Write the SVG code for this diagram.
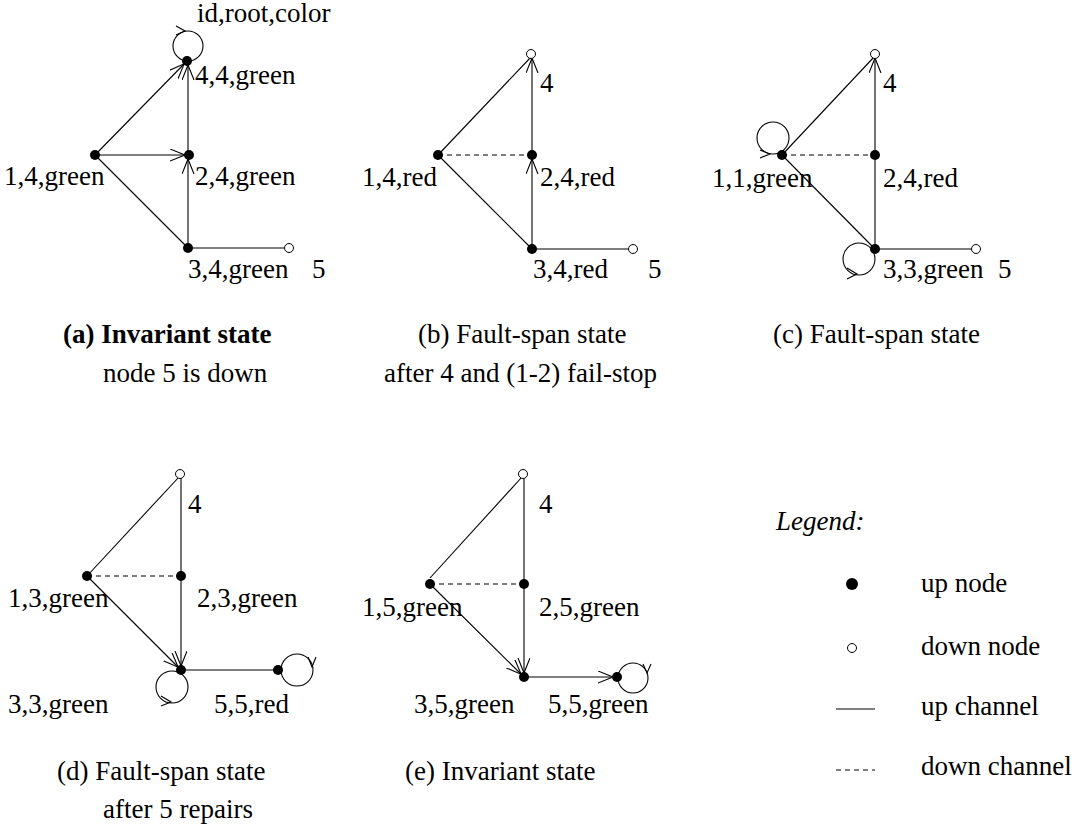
<svg xmlns="http://www.w3.org/2000/svg" width="1089" height="829" viewBox="0 0 1089 829">
<defs>
<style>
text{font-family:"Liberation Serif","Times New Roman",serif;font-size:27px;fill:#000}
.b{font-weight:bold}
.i{font-style:italic}
.e{stroke:#000;stroke-width:1.1;fill:none}
.d{stroke:#000;stroke-width:1.1;fill:none;stroke-dasharray:5 4}
.up{fill:#000}
.dn{fill:#fff;stroke:#000;stroke-width:1}
.ah{stroke:#000;stroke-width:1.1;fill:none}
</style>
<marker id="arr" markerUnits="userSpaceOnUse" markerWidth="24" markerHeight="14" viewBox="0 0 24 14" refX="19" refY="6" orient="auto">
<path d="M0,0 L15,6 L0,12" fill="none" stroke="#000" stroke-width="1.1"/>
</marker>
</defs>
<rect width="1089" height="829" fill="#fff"/>

<!-- Panel a -->
<g id="connectors-a">
<line class="e" x1="95" y1="155" x2="187" y2="61" marker-end="url(#arr)" stroke-width="1.5"/>
<line class="e" x1="95" y1="155" x2="189" y2="155" marker-end="url(#arr)" stroke-width="1.5"/>
<line class="e" x1="95" y1="155" x2="188" y2="248"/>
<line class="e" x1="188" y1="248" x2="188" y2="155" marker-end="url(#arr)"/>
<line class="e" x1="188" y1="155" x2="188" y2="61" marker-end="url(#arr)"/>
<line class="e" x1="188" y1="248" x2="285" y2="248"/>
<circle class="e" cx="188" cy="46" r="15"/>
<path class="ah" d="M176,26 L185,31 L176,35"/>
</g>
<g id="a-n4"><circle class="up" cx="187" cy="61" r="5"/><text x="195" y="84">4,4,green</text><text x="197" y="22">id,root,color</text></g>
<g id="a-n1"><circle class="up" cx="95" cy="155" r="5"/><text x="4" y="185">1,4,green</text></g>
<g id="a-n2"><circle class="up" cx="189" cy="155" r="5"/><text x="195" y="185">2,4,green</text></g>
<g id="a-n3"><circle class="up" cx="188" cy="248" r="5"/><text x="188" y="278">3,4,green</text></g>
<g id="a-n5"><circle class="dn" cx="289" cy="248" r="4.5"/><text x="312" y="278">5</text></g>
<g id="cap-a"><text class="b" x="63" y="343">(a) Invariant state</text><text x="103" y="382">node 5 is down</text></g>

<!-- Panel b -->
<g id="connectors-b">
<line class="e" x1="438" y1="155" x2="531" y2="57"/>
<line class="d" x1="438" y1="155" x2="532" y2="155"/>
<line class="e" x1="438" y1="155" x2="532" y2="249"/>
<line class="e" x1="532" y1="249" x2="532" y2="155" marker-end="url(#arr)"/>
<line class="e" x1="532" y1="155" x2="532" y2="54" marker-end="url(#arr)"/>
<line class="e" x1="532" y1="249" x2="629" y2="249"/>
</g>
<g id="b-n4"><circle class="dn" cx="531" cy="54" r="4.5"/><text x="540" y="92">4</text></g>
<g id="b-n1"><circle class="up" cx="438" cy="155" r="5"/><text x="362" y="186">1,4,red</text></g>
<g id="b-n2"><circle class="up" cx="532" cy="155" r="5"/><text x="540" y="186">2,4,red</text></g>
<g id="b-n3"><circle class="up" cx="532" cy="249" r="5"/><text x="533" y="278">3,4,red</text></g>
<g id="b-n5"><circle class="dn" cx="633" cy="249" r="4.5"/><text x="648" y="278">5</text></g>
<g id="cap-b"><text x="418" y="343">(b) Fault-span state</text><text x="384" y="382">after 4 and (1-2) fail-stop</text></g>

<!-- Panel c -->
<g id="connectors-c">
<line class="e" x1="782" y1="155" x2="874" y2="57"/>
<line class="d" x1="782" y1="155" x2="875" y2="155"/>
<line class="e" x1="782" y1="155" x2="875" y2="249"/>
<line class="e" x1="875" y1="249" x2="875" y2="155"/>
<line class="e" x1="875" y1="155" x2="875" y2="54" marker-end="url(#arr)"/>
<line class="e" x1="875" y1="249" x2="972" y2="249"/>
<circle class="e" cx="773" cy="138" r="16"/>
<path class="ah" d="M760,150 L770,154 L760,158"/>
<circle class="e" cx="859" cy="259" r="16"/>
<path class="ah" d="M847,268 L857,274 L847,279"/>
</g>
<g id="c-n4"><circle class="dn" cx="875" cy="54" r="4.5"/><text x="883" y="92">4</text></g>
<g id="c-n1"><circle class="up" cx="782" cy="155" r="5"/><text x="712" y="187">1,1,green</text></g>
<g id="c-n2"><circle class="up" cx="875" cy="155" r="5"/><text x="883" y="187">2,4,red</text></g>
<g id="c-n3"><circle class="up" cx="875" cy="249" r="5"/><text x="883" y="278">3,3,green</text></g>
<g id="c-n5"><circle class="dn" cx="976" cy="249" r="4.5"/><text x="998" y="278">5</text></g>
<g id="cap-c"><text x="773" y="343">(c) Fault-span state</text></g>

<!-- Panel d -->
<g id="connectors-d">
<line class="e" x1="87" y1="576" x2="179" y2="477"/>
<line class="d" x1="87" y1="576" x2="181" y2="576"/>
<line class="e" x1="87" y1="576" x2="181" y2="670" marker-end="url(#arr)"/>
<line class="e" x1="181" y1="478" x2="181" y2="576"/>
<line class="e" x1="181" y1="576" x2="181" y2="670" marker-end="url(#arr)"/>
<line class="e" x1="181" y1="670" x2="278" y2="670"/>
<circle class="e" cx="172" cy="687" r="16"/>
<path class="ah" d="M161,696 L171,702 L161,706"/>
<circle class="e" cx="297" cy="670" r="16"/>
<path class="ah" d="M308,657 L312,667 L316,657"/>
</g>
<g id="d-n4"><circle class="dn" cx="180" cy="474" r="4.5"/><text x="188" y="513">4</text></g>
<g id="d-n1"><circle class="up" cx="87" cy="576" r="5"/><text x="8" y="607">1,3,green</text></g>
<g id="d-n2"><circle class="up" cx="181" cy="576" r="5"/><text x="197" y="607">2,3,green</text></g>
<g id="d-n3"><circle class="up" cx="181" cy="670" r="5"/><text x="8" y="713">3,3,green</text></g>
<g id="d-n5"><circle class="up" cx="278" cy="670" r="5"/><text x="214" y="713">5,5,red</text></g>
<g id="cap-d"><text x="57" y="780">(d) Fault-span state</text><text x="103" y="818">after 5 repairs</text></g>

<!-- Panel e -->
<g id="connectors-e">
<line class="e" x1="430" y1="578" x2="522" y2="477"/>
<line class="d" x1="430" y1="584" x2="524" y2="584"/>
<line class="e" x1="430" y1="584" x2="524" y2="677" marker-end="url(#arr)"/>
<line class="e" x1="524" y1="478" x2="524" y2="584"/>
<line class="e" x1="524" y1="584" x2="524" y2="677" marker-end="url(#arr)"/>
<line class="e" x1="524" y1="677" x2="617" y2="677" marker-end="url(#arr)"/>
<circle class="e" cx="633" cy="678" r="15"/>
<path class="ah" d="M643,664 L647,673 L651,664"/>
</g>
<g id="e-n4"><circle class="dn" cx="523" cy="474" r="4.5"/><text x="539" y="513">4</text></g>
<g id="e-n1"><circle class="up" cx="430" cy="584" r="5"/><text x="362" y="616">1,5,green</text></g>
<g id="e-n2"><circle class="up" cx="524" cy="584" r="5"/><text x="539" y="616">2,5,green</text></g>
<g id="e-n3"><circle class="up" cx="524" cy="677" r="5"/><text x="414" y="713">3,5,green</text></g>
<g id="e-n5"><circle class="up" cx="617" cy="677" r="5"/><text x="548" y="713">5,5,green</text></g>
<g id="cap-e"><text x="405" y="780">(e) Invariant state</text></g>

<!-- Legend -->
<g id="legend">
<text class="i" x="776" y="530">Legend:</text>
<circle class="up" cx="852" cy="584" r="6"/><text x="921" y="592">up node</text>
<circle class="dn" cx="852" cy="648" r="4.5"/><text x="921" y="655">down node</text>
<line class="e" x1="836" y1="709" x2="875" y2="709"/><text x="921" y="715">up channel</text>
<line class="d" x1="836" y1="770" x2="875" y2="770" stroke-dasharray="5 5"/><text x="921" y="775">down channel</text>
</g>
</svg>
